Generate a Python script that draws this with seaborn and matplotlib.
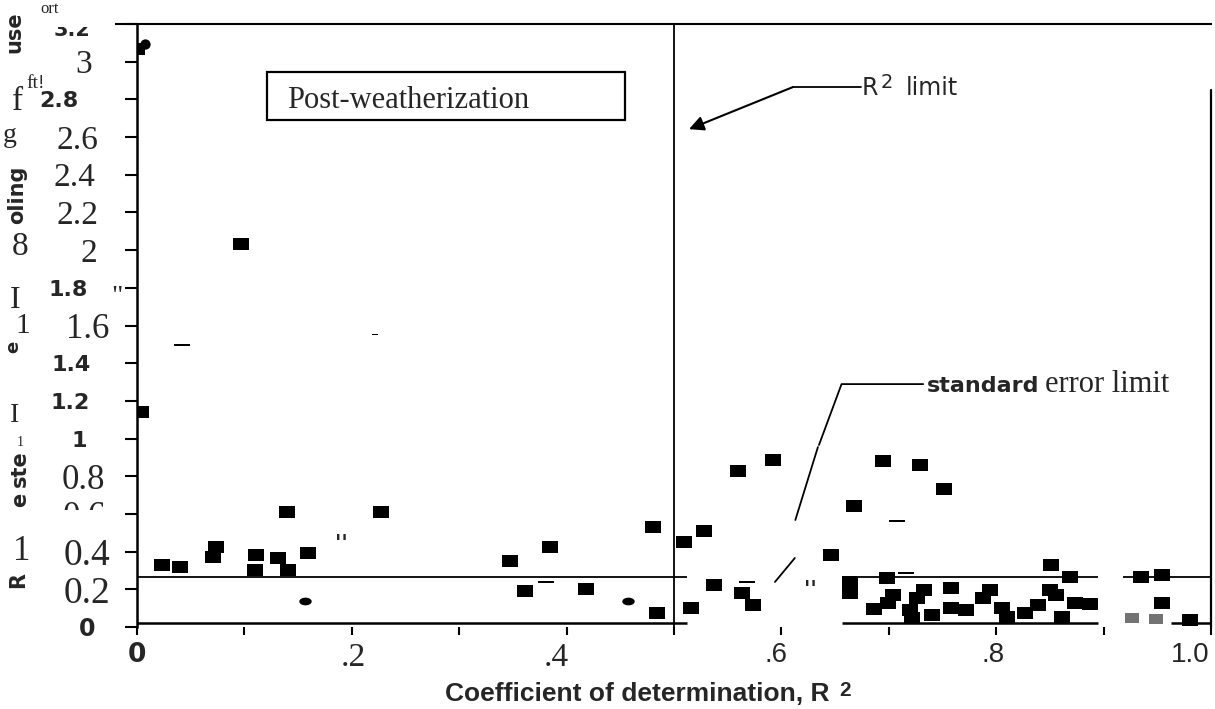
import numpy as np
import pandas as pd
import matplotlib
matplotlib.use("Agg")
import matplotlib.pyplot as plt
import matplotlib.transforms as mtransforms
from matplotlib.patches import Rectangle
from matplotlib.lines import Line2D
import seaborn as sns

# ---------------- data ----------------
square_x = [0.000, 0.097, 0.004, 0.023, 0.040, 0.074, 0.071, 0.111, 0.110, 0.131,
            0.141, 0.140, 0.159, 0.227, 0.347, 0.385, 0.361, 0.418, 0.480, 0.484,
            0.509, 0.516, 0.528, 0.537, 0.563, 0.574, 0.560, 0.592, 0.6465, 0.668,
            0.695, 0.729, 0.751, 0.664, 0.664, 0.698, 0.686, 0.704, 0.699, 0.733,
            0.726, 0.720, 0.722, 0.740, 0.758, 0.758, 0.772, 0.794, 0.788, 0.805,
            0.810, 0.827, 0.839, 0.851, 0.869, 0.850, 0.856, 0.861, 0.873, 0.887,
            0.935, 0.954, 0.954, 0.980]
square_y = [3.065, 2.035, 1.139, 0.329, 0.320, 0.423, 0.373, 0.382, 0.302, 0.364,
            0.302, 0.612, 0.394, 0.612, 0.350, 0.426, 0.193, 0.200, 0.529, 0.076,
            0.453, 0.100, 0.509, 0.223, 0.182, 0.117, 0.829, 0.886, 0.382, 0.642,
            0.882, 0.859, 0.730, 0.240, 0.180, 0.258, 0.094, 0.170, 0.130, 0.196,
            0.152, 0.090, 0.050, 0.064, 0.207, 0.100, 0.088, 0.196, 0.153, 0.099,
            0.055, 0.073, 0.117, 0.329, 0.264, 0.196, 0.170, 0.055, 0.126, 0.122,
            0.267, 0.276, 0.126, 0.037]
gray_x = [0.926, 0.949]
gray_y = [0.046, 0.042]
oval_x = [0.156, 0.457]
oval_y = [0.138, 0.138]
dot_x = [0.0074]
dot_y = [3.096]
dash_x = [0.0415, 0.381, 0.568, 0.7075, 0.716]
dash_y = [1.496, 0.240, 0.240, 0.562, 0.285]
speck_x = [0.222]
speck_y = [1.554]
quote_x = [0.190, 0.627]
quote_y = [0.440, 0.196]

r2_limit = 0.5
se_limit = 0.265

x_ticks = [0, 0.2, 0.4, 0.6, 0.8, 1.0]
x_tick_labels = ["0", ".2", ".4", ".6", ".8", "1.0"]
x_minor_ticks = [0.1, 0.3, 0.5, 0.7, 0.9]
y_ticks = [0, 0.2, 0.4, 0.6, 0.8, 1.0, 1.2, 1.4, 1.6, 1.8, 2.0, 2.2, 2.4, 2.6, 2.8, 3.0, 3.2]
y_tick_labels = ["0", "0.2", "0.4", "0.6", "0.8", "1", "1.2", "1.4", "1.6", "1.8",
                 "2", "2.2", "2.4", "2.6", "2.8", "3", "3.2"]
x_label = "Coefficient of determination, R"
box_label = "Post-weatherization"

# ---------------- style ----------------
sns.set_style("white")
plt.rcParams["font.family"] = ["DejaVu Sans"]
SERIF = ["Liberation Serif", "DejaVu Serif"]
SANS = ["DejaVu Sans"]
ARIAL = ["Liberation Sans", "DejaVu Sans"]

W, H = 1215, 709
fig = plt.figure(figsize=(W / 100, H / 100), dpi=100)
ax = fig.add_axes([137 / W, 1 - 627 / H, 1074 / W, 603 / H])
ax.set_xlim(0, 1.0)
ax.set_ylim(0, 3.2)

def fx(px):
    return px / W

def fy(py):
    return 1 - py / H

rect_m = [(-1, -0.74), (1, -0.74), (1, 0.74), (-1, 0.74), (-1, -0.74)]
dash_m = [(-1, -0.18), (1, -0.18), (1, 0.18), (-1, 0.18), (-1, -0.18)]
t = np.linspace(0, 2 * np.pi, 40)
oval_m = list(zip(np.cos(t), 0.62 * np.sin(t)))

df_sq = pd.DataFrame({"x": square_x, "y": square_y})
df_gray = pd.DataFrame({"x": gray_x, "y": gray_y})
df_oval = pd.DataFrame({"x": oval_x, "y": oval_y})
df_dot = pd.DataFrame({"x": dot_x, "y": dot_y})
df_dash = pd.DataFrame({"x": dash_x, "y": dash_y})
df_speck = pd.DataFrame({"x": speck_x, "y": speck_y})

sns.scatterplot(data=df_sq, x="x", y="y", marker=rect_m, s=118, color="black",
                linewidth=0, ax=ax, zorder=4)
sns.scatterplot(data=df_gray, x="x", y="y", marker=rect_m, s=105, color="0.45",
                linewidth=0, ax=ax, zorder=4)
sns.scatterplot(data=df_oval, x="x", y="y", marker=oval_m, s=80, color="black",
                linewidth=0, ax=ax, zorder=4)
sns.scatterplot(data=df_dot, x="x", y="y", marker="o", s=55, color="black",
                linewidth=0, ax=ax, zorder=4)
sns.scatterplot(data=df_dash, x="x", y="y", marker=dash_m, s=120, color="black",
                linewidth=0, ax=ax, zorder=4)
sns.scatterplot(data=df_speck, x="x", y="y", marker=dash_m, s=16, color="black",
                linewidth=0, ax=ax, zorder=4)
for qx, qy in zip(quote_x, quote_y):
    ax.text(qx, qy, "''", ha="center", va="center", fontsize=15,
            fontweight="bold", family=SANS, zorder=4)

# ---------------- limit lines ----------------
ax.axvline(r2_limit, color="black", lw=1.3, zorder=3)
seg_start = [0, 0.656, 0.918]
seg_end = [0.512, 0.895, 1.0]
ax.hlines([se_limit] * 3, seg_start, seg_end, color="black", lw=1.3, zorder=3)
# broken bottom frame
ax.hlines([0.02] * 3, [0, 0.656, 0.963], [0.512, 0.895, 1.0], color="black", lw=1.8,
          zorder=3, clip_on=False)

# standard error leader
ax.plot([0.732, 0.656, 0.635], [1.289, 1.289, 0.966], color="black", lw=1.3)
ax.plot([0.634, 0.613], [0.955, 0.568], color="black", lw=1.3)
ax.plot([0.6125, 0.594], [0.366, 0.239], color="black", lw=1.3)
ax.text(0.7356, 1.247, "standard", family=SANS, fontweight="bold", fontsize=16,
        va="baseline", ha="left")
ax.text(0.8454, 1.247, "error limit", family=SERIF, fontsize=22,
        va="baseline", ha="left")

# R2 limit leader with arrow
ax.plot([0.6106, 0.674], [2.865, 2.865], color="black", lw=1.3)
ax.annotate("", xy=(0.514, 2.642), xytext=(0.6106, 2.865),
            arrowprops=dict(arrowstyle="-|>", color="black", lw=1.5,
                            mutation_scale=22, shrinkA=0, shrinkB=0))
ax.text(0.675, 2.824, "R", family=SANS, fontsize=17, va="baseline", ha="left")
ax.text(0.6925, 2.862, "2", family=SANS, fontsize=14, va="baseline", ha="left")
ax.text(0.716, 2.824, "limit", family=SANS, fontsize=17, va="baseline", ha="left")

# Post-weatherization box
ax.add_patch(Rectangle((0.121, 2.691), 0.3334, 0.255, fill=False, ec="black", lw=1.6,
                       zorder=3))
ax.text(0.1397, 2.755, box_label, family=SERIF, fontsize=22, va="baseline", ha="left")

# ---------------- spines & ticks ----------------
for s in ["bottom", "right"]:
    ax.spines[s].set_visible(False)
ax.spines["left"].set_linewidth(1.8)
ax.spines["top"].set_linewidth(1.5)
ax.spines["left"].set_color("black")
ax.spines["top"].set_color("black")
ax.plot([1.0, 1.0], [0.0, 2.85], color="black", lw=1.6, clip_on=False)
fig.add_artist(Line2D([fx(98), fx(137)], [fy(24), fy(24)], color="black", lw=1.5))

ax.set_xticks(x_ticks)
ax.set_xticklabels(x_tick_labels)
ax.set_xticks(x_minor_ticks, minor=True)
ax.set_yticks(y_ticks)
ax.set_yticklabels(y_tick_labels)
ax.tick_params(axis="x", which="both", direction="out", length=6, width=1.5,
               pad=5, color="black", bottom=True)
ax.tick_params(axis="y", direction="out", length=8.6, width=1.5, pad=10,
               color="black", left=True)
ax.set_xlabel("")
ax.set_ylabel("")

x_fonts = [(SANS, "bold", 19, 0), (SERIF, "normal", 24, 2), (SERIF, "normal", 24, -10),
           (ARIAL, "normal", 20, -5), (ARIAL, "normal", 20, -3), (ARIAL, "normal", 20, -21)]
for lab, (fam, wt, sz, dx) in zip(ax.get_xticklabels(), x_fonts):
    lab.set_family(fam)
    lab.set_fontweight(wt)
    lab.set_fontsize(sz)
    lab.set_transform(lab.get_transform() +
                      mtransforms.ScaledTranslation(dx / 100, 0, fig.dpi_scale_trans))

# (family, weight, size, right-edge px)
y_fonts = {
    "0": (SANS, "bold", 17, 95), "0.2": (SERIF, "normal", 27, 110),
    "0.4": (SERIF, "normal", 27, 110), "0.6": (SERIF, "normal", 25, 106),
    "0.8": (SERIF, "normal", 25, 105), "1": (SANS, "bold", 16, 87),
    "1.2": (SANS, "bold", 16, 90), "1.4": (SANS, "bold", 16, 91),
    "1.6": (SERIF, "normal", 25, 109), "1.8": (SANS, "bold", 16, 88),
    "2": (SERIF, "normal", 24, 97), "2.2": (SERIF, "normal", 24, 98),
    "2.4": (SERIF, "normal", 24, 95), "2.6": (SERIF, "normal", 24, 98),
    "2.8": (SANS, "bold", 16, 78), "3": (SERIF, "normal", 24, 92),
    "3.2": (SANS, "bold", 15, 90),
}
for lab, txt in zip(ax.get_yticklabels(), y_tick_labels):
    fam, wt, sz, right = y_fonts[txt]
    lab.set_family(fam)
    lab.set_fontweight(wt)
    lab.set_fontsize(sz)
    dx = right - 111
    dy = -4 if txt == "3.2" else 0
    lab.set_transform(lab.get_transform() +
                      mtransforms.ScaledTranslation(dx / 100, dy / 100, fig.dpi_scale_trans))

# scanner white-outs over parts of labels
fig.add_artist(Rectangle((fx(35), fy(27)), fx(80), 27 / H, transform=fig.transFigure,
                         fc="white", ec="none", zorder=5))
fig.add_artist(Rectangle((fx(28), fy(530)), fx(95), 20 / H, transform=fig.transFigure,
                         fc="white", ec="none", zorder=5))

# garbled axis title fragments (as in the scan)
frags = [
    ("use", 14, 32, SANS, "bold", 15, 90),
    ("ort", 50, 9, SERIF, "normal", 12, 0),
    ("ft!", 36, 83, SERIF, "normal", 14, 0),
    ("f", 18, 102, SERIF, "normal", 24, 0),
    ("g", 10, 136, SERIF, "normal", 20, 0),
    ("oling", 17, 195, SANS, "bold", 15, 90),
    ("8", 20, 247, SERIF, "normal", 24, 0),
    ("I", 15, 301, SERIF, "normal", 23, 0),
    ("1", 23, 326, SERIF, "normal", 21, 0),
    ('"', 117, 298, SERIF, "normal", 20, 0),
    ("e", 13, 347, SANS, "bold", 13, 90),
    ("I", 15, 416, SERIF, "normal", 20, 0),
    ("1", 20, 442, SERIF, "normal", 10, 0),
    ("ste", 20, 469, SANS, "bold", 15, 90),
    ("e", 20, 500, SANS, "bold", 15, 90),
    ("1", 22, 551, SERIF, "normal", 25, 0),
    ("R", 18, 580, SANS, "bold", 15, 90),
]
for txt, px, py, fam, wt, sz, rot in frags:
    fig.text(fx(px), fy(py), txt, family=fam, fontweight=wt, fontsize=sz,
             rotation=rot, ha="center", va="center", zorder=6)

fig.text(fx(445), fy(701), x_label, family=ARIAL, fontweight="bold", fontsize=19,
         ha="left", va="baseline")
fig.text(fx(839), fy(696), "2", family=ARIAL, fontweight="bold", fontsize=15,
         ha="left", va="baseline")

fig.savefig("out.png", dpi=100, facecolor="white")
